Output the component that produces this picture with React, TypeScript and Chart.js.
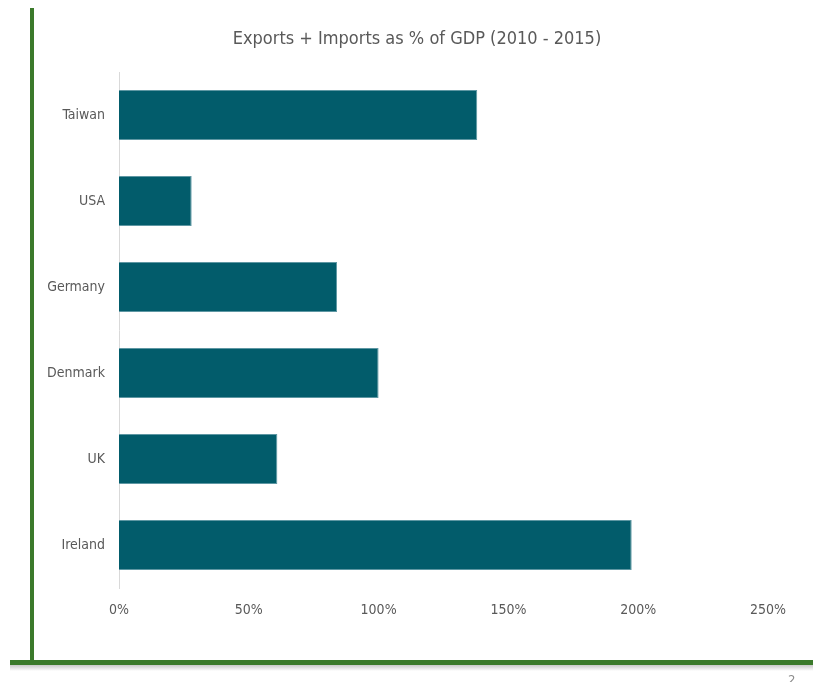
import React, { useEffect, useRef } from "react";
import { Chart, registerables } from "chart.js";

Chart.register(...registerables);

const categories = ["Taiwan", "USA", "Germany", "Denmark", "UK", "Ireland"];
const values = [138, 28, 84, 100, 61, 197.5];
const xTicks = [0, 50, 100, 150, 200, 250];
const titleText = "Exports + Imports as % of GDP (2010 - 2015)";

const FONT = "'Liberation Sans Narrow', 'DejaVu Sans Condensed', sans-serif";

export default function App() {
  const ref = useRef<HTMLCanvasElement | null>(null);

  useEffect(() => {
    if (!ref.current) return;
    const chart = new Chart(ref.current, {
      type: "bar",
      data: {
        labels: categories,
        datasets: [
          {
            data: values,
            backgroundColor: "#025c6b",
            borderColor: "#5e97a3",
            borderWidth: 1,
            categoryPercentage: 1,
            barPercentage: 0.58,
          },
        ],
      },
      options: {
        indexAxis: "y",
        animation: false,
        responsive: true,
        maintainAspectRatio: false,
        layout: { padding: { left: 0, right: 45, top: 72, bottom: 0 } },
        plugins: {
          legend: { display: false },
          tooltip: { enabled: false },
          title: { display: false },
        },
        scales: {
          x: {
            min: 0,
            max: 250,
            afterBuildTicks: (s: any) => {
              s.ticks = xTicks.map((v) => ({ value: v }));
            },
            afterFit: (s: any) => {
              s.height = 94;
            },
            grid: { display: false, drawTicks: false },
            border: { display: false },
            ticks: {
              color: "#595959",
              font: { family: FONT, size: 14 },
              padding: 14,
              callback: (v: any) => v + "%",
            },
          },
          y: {
            afterFit: (s: any) => {
              s.width = 119;
            },
            grid: { display: false, drawTicks: false },
            border: { display: true, color: "#d9d9d9", width: 1 },
            ticks: {
              color: "#595959",
              font: { family: FONT, size: 14 },
              padding: 14,
            },
          },
        },
      },
    });
    return () => chart.destroy();
  }, []);

  return (
    <div
      style={{
        position: "absolute",
        left: 0,
        top: 0,
        width: 813,
        height: 682,
        background: "#ffffff",
        overflow: "hidden",
      }}
    >
      <div style={{ position: "absolute", left: 0, top: 0, width: 813, height: 682 }}>
        <canvas ref={ref} />
      </div>
      <div
        style={{
          position: "absolute",
          left: 0,
          top: 27,
          width: 834,
          textAlign: "center",
          fontFamily: FONT,
          fontSize: 18,
          lineHeight: "22px",
          color: "#595959",
        }}
      >
        {titleText}
      </div>
      <div
        style={{
          position: "absolute",
          left: 10,
          top: 664,
          width: 803,
          height: 7,
          background: "linear-gradient(#bfbfbf, rgba(255,255,255,0))",
        }}
      />
      <div
        style={{
          position: "absolute",
          left: 30,
          top: 8,
          width: 4,
          height: 656,
          background: "#3b7a2b",
        }}
      />
      <div
        style={{
          position: "absolute",
          left: 10,
          top: 660,
          width: 803,
          height: 5,
          background: "#3b7a2b",
        }}
      />
      <div
        style={{
          position: "absolute",
          left: 788,
          top: 672,
          fontFamily: FONT,
          fontSize: 13,
          color: "#8c8c8c",
        }}
      >
        2
      </div>
    </div>
  );
}
